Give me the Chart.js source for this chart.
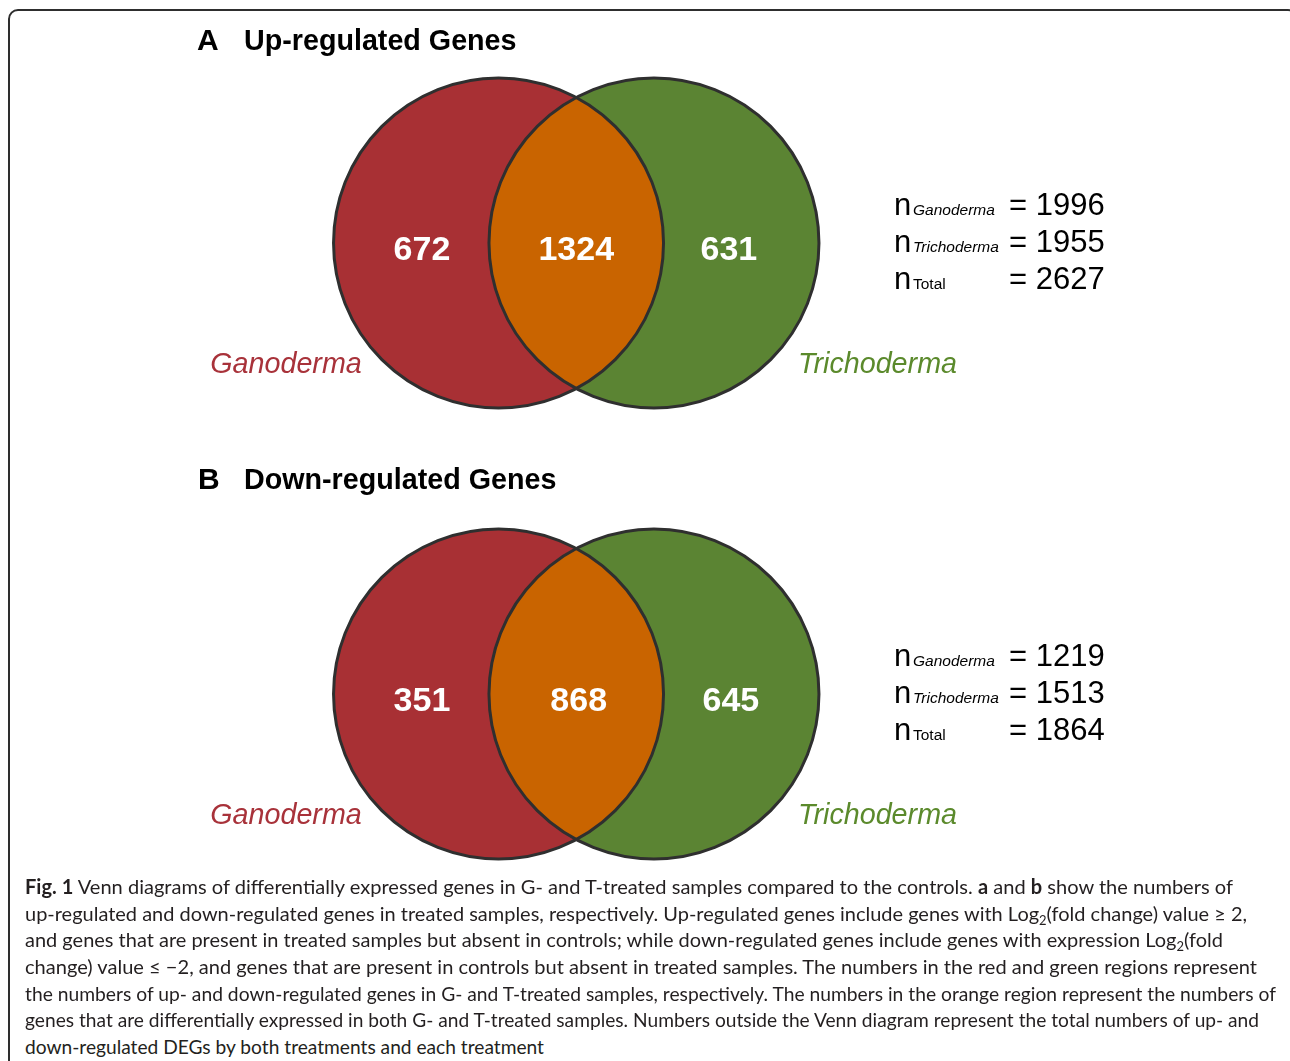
<!DOCTYPE html>
<html>
<head>
<meta charset="utf-8">
<script src="https://cdn.jsdelivr.net/npm/chart.js@4.4.1/dist/chart.umd.min.js"></script>
<style>
  body { margin: 0; background: #fff; width: 1290px; height: 1061px; overflow: hidden; position: relative;
         font-family: "Liberation Sans", Arial, sans-serif; color: #000; }
  #frame { position: absolute; left: 8px; top: 9px; width: 1286px; height: 1100px;
           border: 2px solid #2e2e2e; border-radius: 10px; }
  .panel { position: absolute; left: 0; }
  .t { position: absolute; white-space: nowrap; line-height: 1; transform-origin: 0 0; }
  .title { font-weight: bold; font-size: 30px; }
  .title.w { transform: scaleX(0.956); }
  .n { font-size: 31px; }
  .sub { font-size: 15.5px; }
  .sub.i { font-style: italic; }
  .val { font-size: 31px; }
  .cap { position: absolute; left: 25px; white-space: nowrap; line-height: 1; font-family: Lato, "Open Sans", sans-serif;
         font-size: 20px; color: #231f20; transform-origin: 0 0; }
  .cap b { font-weight: bold; }
  .cap .s2 { font-size: 13px; position: relative; top: 4px; }
</style>
</head>
<body>
<div id="frame"></div>
<canvas id="vennUp" class="panel" width="1290" height="451" style="top:0"></canvas>
<canvas id="vennDown" class="panel" width="1290" height="451" style="top:451px"></canvas>
<div id="texts"></div>

<script>
// ---- data ----
const regionNames = ['Ganoderma only', 'Ganoderma and Trichoderma', 'Trichoderma only'];
const speciesNames = ['Ganoderma', 'Trichoderma'];
const upCounts = [672, 1324, 631];
const downCounts = [351, 868, 645];
const totalNames = ['Ganoderma', 'Trichoderma', 'Total'];
const upTotals = [1996, 1955, 2627];
const downTotals = [1219, 1513, 1864];

// ---- layout (circle radius = 1 unit) ----
const UNIT = 165;                       // px per unit
const ORIGIN = { x: 576.25, y: 243 };   // pixel of (0,0) in a panel
const PANEL_W = 1290, PANEL_H = 451;
const CIRCLE_X = [-0.471, 0.471];
const COUNT_POS = {
  up:   [[-0.935, -0.1], [0, -0.1], [0.925, -0.1]],
  down: [[-0.935, -0.1], [0.015, -0.1], [0.937, -0.1]]
};
const NAME_POS = [[-1.759, -0.79], [1.826, -0.79]];

const RED = '#a83034', GREEN = '#5b8433', ORANGE = '#c96400', EDGE = '#2f2f2f';
const NAME_COLORS = ['#a8323a', '#5b8a2c'];

function makeVenn(id, counts, countPos) {
  const vennPlugin = {
    id: 'venn',
    afterDatasetDraw(chart, args) {
      if (args.index !== 1) return;
      // overlap of the two sets, painted over the filled circles
      const [a, b] = args.meta.data;
      if (!(a.options.radius > 0)) return;
      const ctx = chart.ctx;
      ctx.save();
      ctx.beginPath();
      ctx.arc(a.x, a.y, a.options.radius, 0, Math.PI * 2);
      ctx.clip();
      ctx.beginPath();
      ctx.arc(b.x, b.y, b.options.radius, 0, Math.PI * 2);
      ctx.fillStyle = ORANGE;
      ctx.fill();
      ctx.restore();
    },
    afterDatasetsDraw(chart) {
      const ctx = chart.ctx;
      ctx.save();
      ctx.textAlign = 'center';
      ctx.textBaseline = 'alphabetic';
      ctx.font = 'bold 34px "Liberation Sans", Arial, sans-serif';
      ctx.fillStyle = '#ffffff';
      chart.getDatasetMeta(2).data.forEach((el, i) => ctx.fillText(String(counts[i]), el.x, el.y));
      ctx.font = 'italic 28.7px "Liberation Sans", Arial, sans-serif';
      chart.getDatasetMeta(3).data.forEach((el, i) => {
        ctx.fillStyle = NAME_COLORS[i];
        ctx.fillText(speciesNames[i], el.x, el.y);
      });
      ctx.restore();
    }
  };

  // datasets are drawn last-to-first: outline (0) ends on top of the filled sets (1)
  const chart = new Chart(document.getElementById(id), {
    type: 'bubble',
    data: {
      datasets: [
        { label: 'outline', data: CIRCLE_X.map(x => ({ x: x, y: 0 })), backgroundColor: 'rgba(0,0,0,0)', borderColor: EDGE, borderWidth: 3, clip: false },
        { label: 'sets', data: CIRCLE_X.map(x => ({ x: x, y: 0 })), backgroundColor: [RED, GREEN], borderWidth: 0, clip: false },
        { label: 'counts', data: countPos.map((p, i) => ({ x: p[0], y: p[1], region: regionNames[i] })), radius: 0 },
        { label: 'names', data: NAME_POS.map(p => ({ x: p[0], y: p[1] })), radius: 0 }
      ]
    },
    options: {
      responsive: false,
      animation: false,
      devicePixelRatio: 1,
      events: [],
      layout: { padding: 0, autoPadding: false },
      scales: {
        x: { type: 'linear', display: false, min: -ORIGIN.x / UNIT, max: (PANEL_W - ORIGIN.x) / UNIT },
        y: { type: 'linear', display: false, min: -(PANEL_H - ORIGIN.y) / UNIT, max: ORIGIN.y / UNIT }
      },
      plugins: { legend: { display: false }, tooltip: { enabled: false }, title: { display: false } }
    },
    plugins: [vennPlugin]
  });

  // bubble size = one unit of the x scale, in pixels
  const sx = chart.scales.x;
  let r = sx.getPixelForValue(1) - sx.getPixelForValue(0);
  if (!(r > 0)) r = UNIT;
  chart.data.datasets[0].data = CIRCLE_X.map(x => ({ x: x, y: 0, r: r }));
  chart.data.datasets[1].data = CIRCLE_X.map(x => ({ x: x, y: 0, r: r }));
  chart.update();
  return chart;
}

makeVenn('vennUp', upCounts, COUNT_POS.up);
makeVenn('vennDown', downCounts, COUNT_POS.down);

// ---- html text: titles, totals, caption ----
const box = document.getElementById('texts');
function put(cls, html, x, baseline, size) {
  const d = document.createElement('div');
  d.className = 't ' + cls;
  d.innerHTML = html;
  d.style.left = x + 'px';
  d.style.top = (baseline - 0.8465 * size) + 'px';
  box.appendChild(d);
  return d;
}

[['A', 'Up-regulated Genes', 50.5, 197, upTotals, 215],
 ['B', 'Down-regulated Genes', 489.5, 198, downTotals, 666]].forEach(([letter, title, tb, lx, totals, nb]) => {
  put('title', letter, lx, tb, 30);
  put('title w', title, 244, tb, 30);
  totals.forEach((v, i) => {
    const b = nb + i * 37;
    put('n', 'n', 894, b, 31);
    put('sub' + (i < 2 ? ' i' : ''), totalNames[i], 913, b, 15.5);
    put('val', '= ' + v, 1009, b, 31);
  });
});

const captionLines = [
  '<b>Fig. 1</b> Venn diagrams of differentially expressed genes in G- and T-treated samples compared to the controls. <b>a</b> and <b>b</b> show the numbers of',
  'up-regulated and down-regulated genes in treated samples, respectively. Up-regulated genes include genes with Log<span class="s2">2</span>(fold change) value \u2265 2,',
  'and genes that are present in treated samples but absent in controls; while down-regulated genes include genes with expression Log<span class="s2">2</span>(fold',
  'change) value \u2264 \u22122, and genes that are present in controls but absent in treated samples. The numbers in the red and green regions represent',
  'the numbers of up- and down-regulated genes in G- and T-treated samples, respectively. The numbers in the orange region represent the numbers of',
  'genes that are differentially expressed in both G- and T-treated samples. Numbers outside the Venn diagram represent the total numbers of up- and',
  'down-regulated DEGs by both treatments and each treatment'
];
const captionRight = [1233, 1247, 1223, 1257, 1276, 1259, 544];
const capEls = captionLines.map((html, i) => {
  const d = document.createElement('div');
  d.className = 'cap';
  d.innerHTML = html;
  d.style.top = (894 + i * 26.6 - 0.887 * 20) + 'px';
  box.appendChild(d);
  return d;
});
capEls.forEach((d, i) => {
  const w = d.getBoundingClientRect().width;
  d.style.transform = 'scaleX(' + ((captionRight[i] - 25) / w).toFixed(4) + ')';
});
</script>
</body>
</html>
